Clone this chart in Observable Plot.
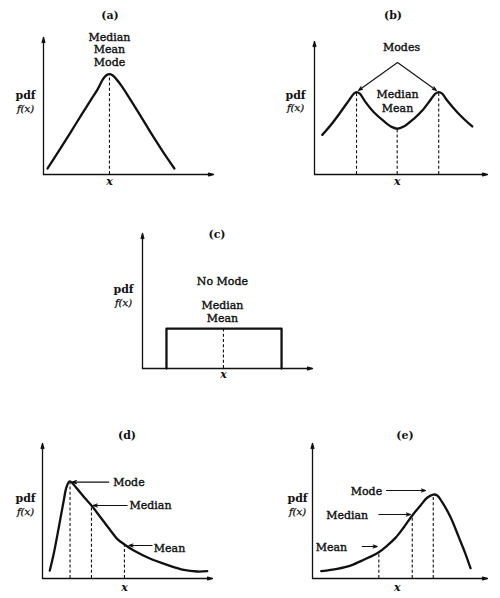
<!DOCTYPE html>
<html>
<head>
<meta charset="utf-8">
<script src="https://cdn.jsdelivr.net/npm/d3@7"></script>
<script src="https://cdn.jsdelivr.net/npm/@observablehq/plot@0.6"></script>
<style>
  html, body { margin: 0; padding: 0; background: #fff; }
  #root { position: relative; width: 500px; height: 598px; background: #fff; overflow: hidden; }
  .panel { position: absolute; }
  .ptitle { position: absolute; transform: translate(-50%, -50%); font-family: "DejaVu Serif", serif; font-size: 11px; font-weight: bold; color: #111; white-space: nowrap; }
</style>
</head>
<body>
<div id="root"></div>
<script>
// ---------- Data (arbitrary units 0..10) ----------
const panelTitles = ["(a)", "(b)", "(c)", "(d)", "(e)"];

// (a) symmetric unimodal
const curveA_x = [0.24, 1.0, 1.88, 2.76, 3.2, 3.49, 3.7, 3.88, 4.06, 4.27, 4.6, 5.0, 5.7, 6.41, 7.06, 7.7];
const curveA_y = [0.44, 1.9, 3.65, 5.4, 6.25, 6.95, 7.24, 7.33, 7.24, 6.98, 6.45, 5.69, 4.3, 2.85, 1.6, 0.44];
const dashA_x = [3.88];
const dashA_top = [7.33];
const labelsA = ["Median", "Mean", "Mode"];
const labelsA_y = [10, 9.09, 8.18];

// (b) bimodal
const curveB_x = [0.45, 0.92, 1.5, 1.98, 2.27, 2.43, 2.62, 2.95, 3.43, 4.01, 4.49, 4.78, 5.16, 5.74, 6.23, 6.71, 6.99, 7.18, 7.38, 7.67, 8.25, 8.73, 9.12];
const curveB_y = [2.98, 3.68, 4.68, 5.56, 6.07, 6.2, 6.08, 5.44, 4.68, 4.01, 3.56, 3.44, 3.61, 4.19, 4.81, 5.62, 6.08, 6.2, 6.08, 5.56, 4.68, 4.06, 3.61];
const dashB_x = [2.43, 4.78, 7.18];
const dashB_top = [6.2, 3.44, 6.2];
const labelsB = ["Modes", "Median", "Mean"];
const labelsB_x = [5.03, 4.8, 4.8];
const labelsB_y = [9.55, 5.98, 5.0];
const arrowsB_from = [[4.8, 8.42], [4.8, 8.42]];
const arrowsB_to = [[2.54, 6.32], [7.05, 6.32]];

// (c) uniform
const curveC_x = [1.41, 1.41, 8.18, 8.18];
const curveC_y = [0, 2.96, 2.96, 0];
const dashC_x = [4.76];
const dashC_top = [2.96];
const labelsC = ["No Mode", "Median", "Mean"];
const labelsC_y = [6.44, 4.67, 3.7];

// (d) right skewed
const curveD_x = [0.43, 0.66, 0.96, 1.25, 1.41, 1.6, 2.04, 2.53, 2.88, 3.41, 4.0, 4.39, 4.82, 5.37, 6.35, 7.34, 8.31, 9.1, 9.69];
const curveD_y = [0.59, 1.83, 3.8, 5.78, 6.76, 7.19, 6.64, 5.9, 5.41, 4.54, 3.56, 2.94, 2.52, 2.07, 1.46, 1.01, 0.64, 0.52, 0.54];
const dashD_x = [1.62, 2.88, 4.82];
const dashD_top = [7.12, 5.41, 2.52];
const labelsD = ["Mode", "Median", "Mean"];
const labelsD_x = [4.16, 5.12, 6.55];
const labelsD_y = [7.11, 5.41, 2.25];
const arrowsD_x1 = [3.9, 4.98, 6.45];
const arrowsD_x2 = [1.75, 2.98, 5.08];
const arrowsD_y = [7.14, 5.41, 2.44];

// (e) left skewed
const curveE_x = [0.5, 1.41, 2.17, 2.93, 3.79, 4.27, 4.74, 5.22, 5.7, 6.17, 6.55, 6.9, 7.13, 7.41, 7.89, 8.36, 8.74, 9.03];
const curveE_y = [0.54, 0.72, 0.96, 1.39, 1.95, 2.44, 3.01, 3.8, 4.67, 5.41, 5.98, 6.22, 6.15, 5.65, 4.54, 3.06, 1.83, 0.76];
const dashE_x = [3.79, 5.7, 6.9];
const dashE_top = [1.95, 4.67, 6.22];
const labelsE = ["Mode", "Median", "Mean"];
const labelsE_x = [3.98, 3.18, 1.98];
const labelsE_y = [6.44, 4.67, 2.27];
const arrowsE_x1 = [4.23, 3.79, 2.84];
const arrowsE_x2 = [6.46, 5.6, 3.7];
const arrowsE_y = [6.52, 4.74, 2.37];

// x-label position, pdf label heights per panel
const xLabelPos = [3.88, 4.78, 4.76, 4.82, 4.84];
const pdfY = [5.8, 5.97, 5.87, 5.9, 5.9];
const fxY = [4.8, 4.98, 4.89, 4.93, 4.93];

// ---------- Layout ----------
const layout = [
  {left: 0,   top: 0,   width: 250, height: 200, ml: 43, mr: 37, mt: 37, mb: 26, pdfDx: -18, xdy: 10, title: [110, 15]},
  {left: 250, top: 0,   width: 250, height: 200, ml: 64, mr: 13, mt: 41, mb: 26, pdfDx: -19, xdy: 10, title: [393, 15]},
  {left: 100, top: 200, width: 230, height: 200, ml: 42, mr: 18, mt: 33, mb: 32, pdfDx: -19, xdy: 9,  title: [217, 234]},
  {left: 0,   top: 420, width: 250, height: 178, ml: 42, mr: 38, mt: 23, mb: 20, pdfDx: -17, xdy: 12, title: [127, 435]},
  {left: 250, top: 420, width: 250, height: 178, ml: 62, mr: 13, mt: 23, mb: 20, pdfDx: -15, xdy: 12, title: [405, 435]}
];

const FONT = "DejaVu Serif";
const INK = "#111";
const zip = (xs, ys) => xs.map((x, i) => ({x, y: ys[i]}));

function baseMarks(i) {
  return [
    // axes with arrowheads
    Plot.arrow([{x1: 0, y1: 0, x2: 0, y2: 10}, {x1: 0, y1: 0, x2: 10, y2: 0}],
      {x1: "x1", y1: "y1", x2: "x2", y2: "y2", stroke: INK, strokeWidth: 1.3, headLength: 6, headAngle: 30}),
    // x label
    Plot.text([xLabelPos[i]], {x: d => d, frameAnchor: "bottom", dy: layout[i].xdy, text: () => "x",
      fontFamily: FONT, fontStyle: "italic", fontWeight: "bold", fontSize: 11, fill: INK}),
    // y label
    Plot.text([pdfY[i]], {x: () => 0, y: d => d, dx: layout[i].pdfDx, text: () => "pdf",
      fontFamily: FONT, fontWeight: "bold", fontSize: 11, fill: INK}),
    Plot.text([fxY[i]], {x: () => 0, y: d => d, dx: layout[i].pdfDx, text: () => "f(x)",
      fontFamily: FONT, fontStyle: "italic", fontSize: 10, fill: INK, stroke: INK, strokeWidth: 0.3})
  ];
}

function dashes(xs, tops) {
  return Plot.ruleX(xs.map((x, i) => ({x, top: tops[i]})),
    {x: "x", y1: 0, y2: "top", stroke: INK, strokeWidth: 1.1, strokeDasharray: "3,2.2"});
}
function curve(xs, ys, type) {
  return Plot.line(zip(xs, ys), {x: "x", y: "y", curve: type || "catmull-rom", stroke: INK, strokeWidth: 2.3, strokeLinejoin: "round"});
}
function labels(texts, xs, ys, anchor) {
  return Plot.text(texts.map((t, i) => ({t, x: xs[i], y: ys[i]})),
    {x: "x", y: "y", text: "t", textAnchor: anchor || "middle", fontFamily: FONT, fontSize: 11,
     fill: INK, stroke: INK, strokeWidth: 0.4});
}

const panelMarks = [
  [
    dashes(dashA_x, dashA_top),
    curve(curveA_x, curveA_y),
    labels(labelsA, labelsA.map(() => dashA_x[0]), labelsA_y)
  ],
  [
    dashes(dashB_x, dashB_top),
    curve(curveB_x, curveB_y),
    labels(labelsB, labelsB_x, labelsB_y),
    Plot.arrow(arrowsB_from.map((f, i) => ({x1: f[0], y1: f[1], x2: arrowsB_to[i][0], y2: arrowsB_to[i][1]})),
      {x1: "x1", y1: "y1", x2: "x2", y2: "y2", stroke: INK, strokeWidth: 1.1, headLength: 6, headAngle: 40})
  ],
  [
    dashes(dashC_x, dashC_top),
    curve(curveC_x, curveC_y, "linear"),
    labels(labelsC, labelsC.map(() => 4.7), labelsC_y)
  ],
  [
    dashes(dashD_x, dashD_top),
    curve(curveD_x, curveD_y),
    labels(labelsD, labelsD_x, labelsD_y, "start"),
    Plot.arrow(arrowsD_x1.map((x1, i) => ({x1, x2: arrowsD_x2[i], y: arrowsD_y[i]})),
      {x1: "x1", x2: "x2", y1: "y", y2: "y", stroke: INK, strokeWidth: 1.1, headLength: 6, headAngle: 40})
  ],
  [
    dashes(dashE_x, dashE_top),
    curve(curveE_x, curveE_y),
    labels(labelsE, labelsE_x, labelsE_y, "end"),
    Plot.arrow(arrowsE_x1.map((x1, i) => ({x1, x2: arrowsE_x2[i], y: arrowsE_y[i]})),
      {x1: "x1", x2: "x2", y1: "y", y2: "y", stroke: INK, strokeWidth: 1.1, headLength: 6, headAngle: 40})
  ]
];

const root = document.getElementById("root");
layout.forEach((L, i) => {
  const chart = Plot.plot({
    width: L.width, height: L.height,
    marginLeft: L.ml, marginRight: L.mr, marginTop: L.mt, marginBottom: L.mb,
    x: {domain: [0, 10], axis: null},
    y: {domain: [0, 10], axis: null},
    style: {background: "transparent", overflow: "visible"},
    marks: [...panelMarks[i], ...baseMarks(i)]
  });
  const wrap = document.createElement("div");
  wrap.className = "panel";
  wrap.style.left = L.left + "px";
  wrap.style.top = L.top + "px";
  wrap.appendChild(chart);
  root.appendChild(wrap);
  const t = document.createElement("div");
  t.className = "ptitle";
  t.style.left = L.title[0] + "px";
  t.style.top = L.title[1] + "px";
  t.textContent = panelTitles[i];
  root.appendChild(t);
});
</script>
</body>
</html>
